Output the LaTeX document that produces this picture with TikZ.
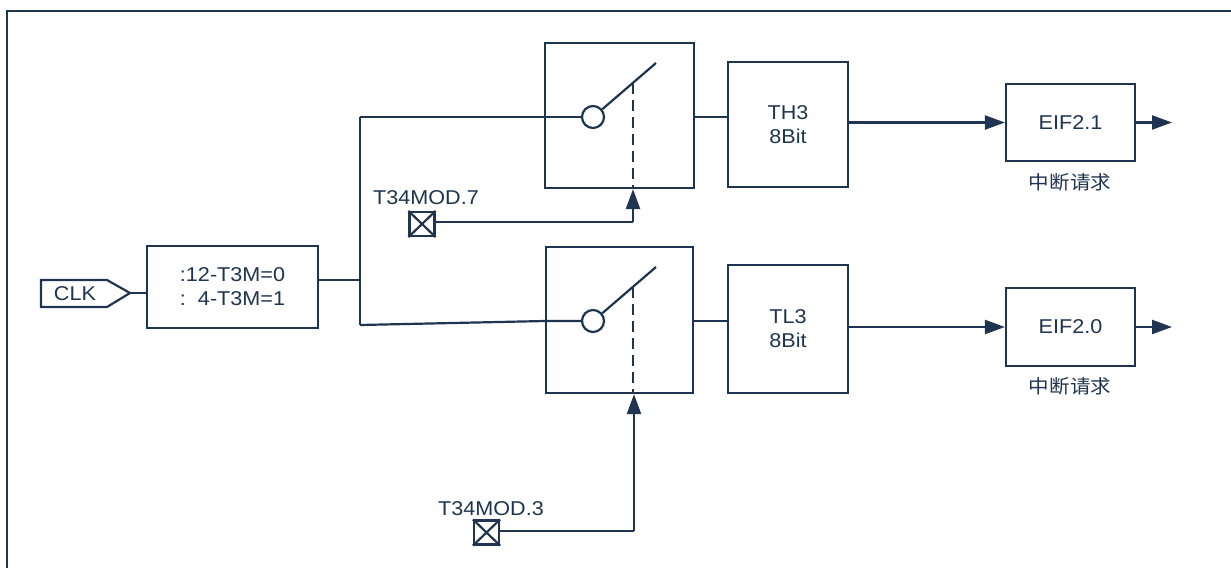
\documentclass[tikz,border=0pt]{standalone}
\usepackage{fontspec}
\setmainfont{Liberation Sans}[FakeStretch=1.08]
\newfontfamily\cjk{Noto Sans CJK SC}[FakeStretch=1.08]
\usetikzlibrary{arrows.meta,calc}
\definecolor{navy}{RGB}{30,52,80}
\begin{document}
\begin{tikzpicture}[x=1pt,y=-1pt,
  every node/.style={font=\fontsize{20}{24}\selectfont, text=navy},
  line/.style={draw=navy, line width=2.2pt},
  blk/.style={draw=navy, line width=2.2pt, rectangle, inner sep=0pt, align=center},
  arr/.style={line, -{Triangle[length=20pt,width=14pt]}},
  dsh/.style={line, dash pattern=on 11pt off 6pt},
  xbox/.style={draw=navy, line width=2.2pt, rectangle, inner sep=0pt, minimum width=25pt, minimum height=24pt},
  ring/.style={draw=navy, line width=2.2pt, circle, inner sep=0pt, minimum size=22pt},
  cjklbl/.style={font=\cjk\fontsize{19}{24}\selectfont}
]
\useasboundingbox (0,0) rectangle (1231,568);
% frame
\draw[draw=navy, line width=1.4pt] (7,568) -- (7,11) -- (1231,11);

% CLK input
\coordinate (clktip) at (130,293);
\draw[line, line join=miter] (41,280) -- (107,280) -- (clktip) -- (107,307) -- (41,307) -- cycle;
\node (clk) at (75,293.5) {CLK};

% divider
\node[blk, minimum width=171pt, minimum height=82pt, align=left] (div) at (232.5,287)
  {:12-T3M=0\\:\hphantom{1}4-T3M=1};
\draw[line] (clktip) -- (div.west |- clktip);
\coordinate (j) at (360,280);
\coordinate (jt) at (360,117);
\coordinate (jb) at (360,325);
\draw[line] (div.east |- j) -- (j);
\draw[line] (jt) -- (jb);

% upper switch
\node[blk, minimum width=149pt, minimum height=145pt] (sw1) at (619.5,115.5) {};
\node[ring] (c1) at (593,117) {};
\coordinate (s1) at (656,63);
\coordinate (d1) at (633,83);
\draw[line] (jt) -- (c1.west);
\draw[line] (c1.40) -- (s1);
\draw[dsh] (d1) -- (sw1.south -| d1);

% lower switch
\node[blk, minimum width=147pt, minimum height=146pt] (sw2) at (619.5,320) {};
\node[ring] (c2) at (593,321) {};
\coordinate (s2) at (656,267);
\coordinate (d2) at (633,287);
\draw[line] (jb) -- (sw2.west |- c2) -- (c2.west);
\draw[line] (c2.40) -- (s2);
\draw[dsh] (d2) -- (sw2.south -| d2);

% timers
\node[blk, minimum width=120pt, minimum height=125pt] (th3) at (788,124.5) {TH3\\8Bit};
\node[blk, minimum width=120pt, minimum height=128pt] (tl3) at (788,329) {TL3\\8Bit};
\draw[line] (sw1.east |- c1) -- (th3.west |- c1);
\draw[line] (sw2.east |- c2) -- (tl3.west |- c2);

% EIF boxes
\node[blk, minimum width=129pt, minimum height=77pt] (eif1) at (1070.5,122.5) {EIF2.1};
\node[blk, minimum width=129pt, minimum height=78pt] (eif2) at (1070.5,327) {EIF2.0};
\draw[arr] (th3.east |- eif1) -- (eif1.west);
\draw[arr] (tl3.east |- eif2) -- (eif2.west);
\coordinate (o1) at (1172,122.5);
\coordinate (o2) at (1172,327);
\draw[arr] (eif1.east) -- (o1);
\draw[arr] (eif2.east) -- (o2);
\node[cjklbl] (l1) at (1070,182) {中断请求};
\node[cjklbl] (l2) at (1070,386) {中断请求};

% control inputs
\node[xbox] (x1) at (422,224) {};
\draw[line] (x1.north west) -- (x1.south east);
\draw[line] (x1.south west) -- (x1.north east);
\node (t7) at (426,198) {T34MOD.7};
\coordinate (k1) at (633,222);
\draw[line] (x1.east |- k1) -- (k1);
\draw[arr] (k1) -- (sw1.south -| k1);

\node[xbox] (x2) at (486.5,532.5) {};
\draw[line] (x2.north west) -- (x2.south east);
\draw[line] (x2.south west) -- (x2.north east);
\node (t3) at (491,509) {T34MOD.3};
\coordinate (k2) at (634,531);
\draw[line] (x2.east |- k2) -- (k2);
\draw[arr] (k2) -- (sw2.south -| k2);
\end{tikzpicture}
\end{document}
